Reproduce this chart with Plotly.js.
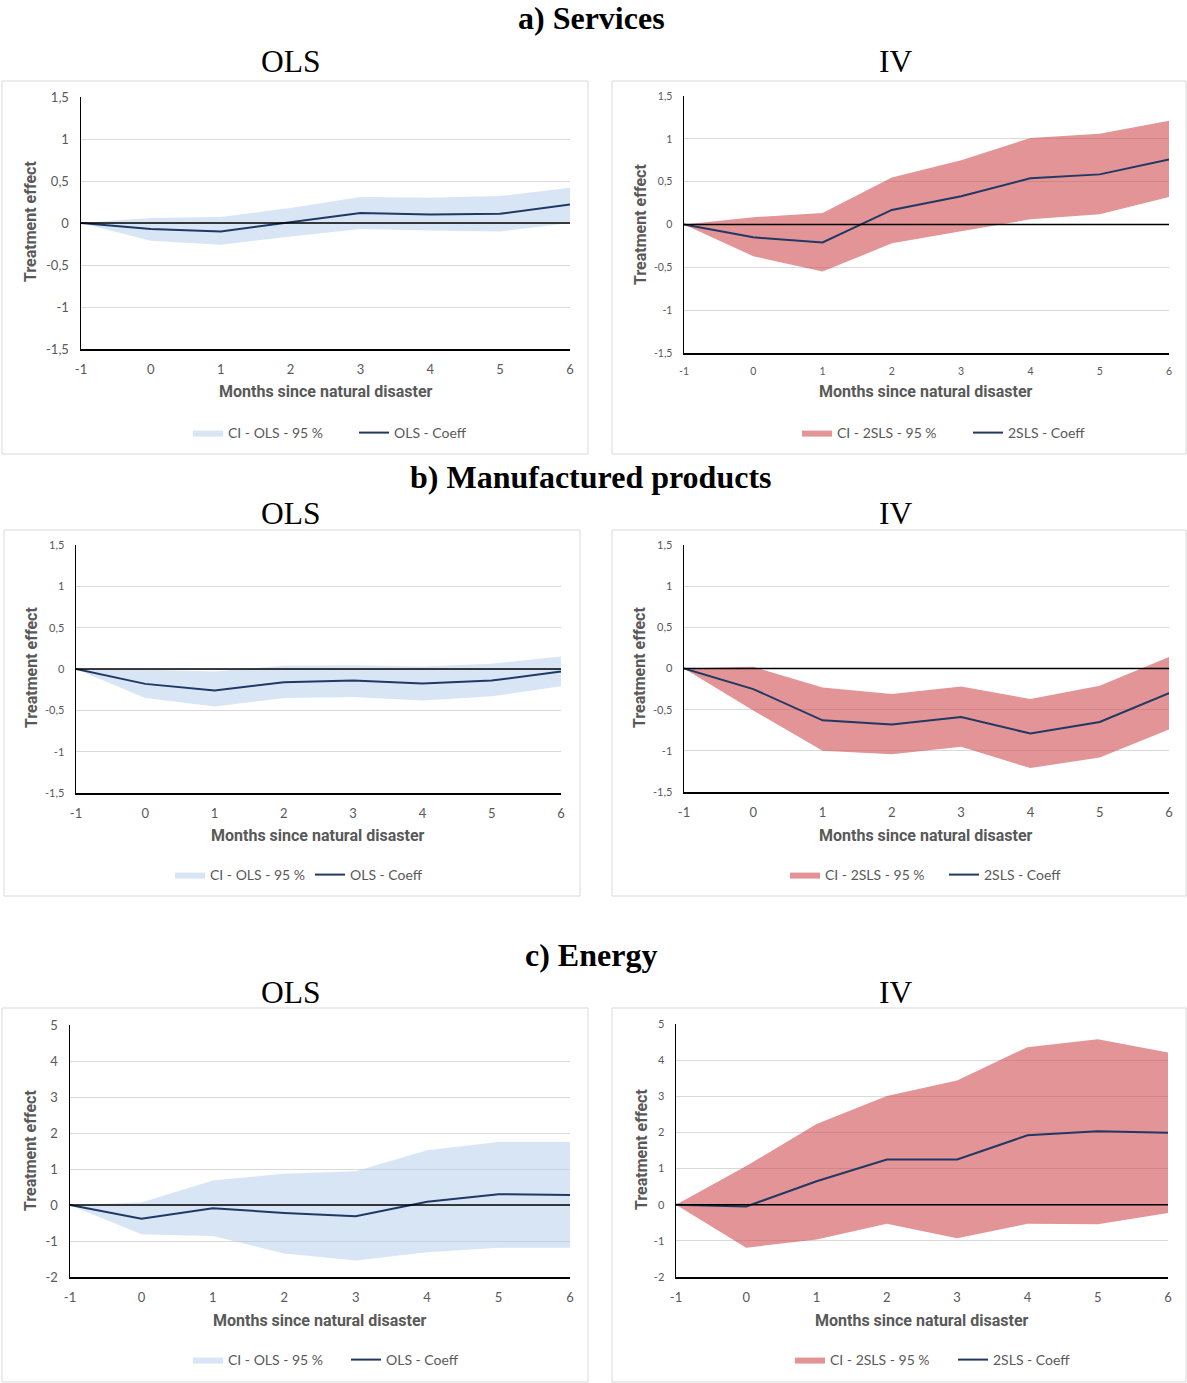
<!DOCTYPE html>
<html>
<head>
<meta charset="utf-8">
<script src="https://cdn.plot.ly/plotly-3.0.1.min.js"></script>
<style>html,body{margin:0;padding:0;background:#fff;}#chart{width:1187px;height:1383px;}</style>
</head>
<body>
<div id="chart"></div>
<script>
// ---------- DATA ----------
const months = [-1, 0, 1, 2, 3, 4, 5, 6];
const monthTickText = ["-1", "0", "1", "2", "3", "4", "5", "6"];
const smallTickVals = [-1.5, -1, -0.5, 0, 0.5, 1, 1.5];
const smallTickText = ["-1,5", "-1", "-0,5", "0", "0,5", "1", "1,5"];
const bigTickVals = [-2, -1, 0, 1, 2, 3, 4, 5];
const bigTickText = ["-2", "-1", "0", "1", "2", "3", "4", "5"];

const servOlsCoef = [0, -0.07, -0.10, 0.01, 0.12, 0.10, 0.11, 0.22];
const servOlsLow  = [0, -0.21, -0.26, -0.16, -0.07, -0.09, -0.10, 0.00];
const servOlsHigh = [0, 0.06, 0.07, 0.18, 0.31, 0.30, 0.32, 0.42];

const servIvCoef = [0, -0.15, -0.21, 0.17, 0.33, 0.54, 0.585, 0.76];
const servIvLow  = [0, -0.37, -0.55, -0.22, -0.08, 0.06, 0.12, 0.32];
const servIvHigh = [0, 0.085, 0.135, 0.55, 0.75, 1.01, 1.06, 1.21];

const manuOlsCoef = [0, -0.18, -0.26, -0.16, -0.14, -0.175, -0.14, -0.03];
const manuOlsLow  = [0, -0.35, -0.455, -0.35, -0.34, -0.38, -0.33, -0.21];
const manuOlsHigh = [0, -0.01, -0.03, 0.04, 0.045, 0.03, 0.065, 0.15];

const manuIvCoef = [0, -0.25, -0.63, -0.68, -0.59, -0.79, -0.65, -0.30];
const manuIvLow  = [0, -0.51, -1.00, -1.04, -0.95, -1.21, -1.08, -0.74];
const manuIvHigh = [0, 0.02, -0.23, -0.31, -0.22, -0.37, -0.21, 0.14];

const enerOlsCoef = [0, -0.38, -0.09, -0.22, -0.31, 0.09, 0.30, 0.28];
const enerOlsLow  = [0, -0.81, -0.86, -1.35, -1.54, -1.31, -1.19, -1.19];
const enerOlsHigh = [0, 0.07, 0.68, 0.87, 0.94, 1.52, 1.75, 1.75];

const enerIvCoef = [0, -0.05, 0.65, 1.25, 1.25, 1.92, 2.03, 1.99];
const enerIvLow  = [0, -1.19, -0.96, -0.53, -0.93, -0.53, -0.54, -0.23];
const enerIvHigh = [0, 1.07, 2.23, 3.01, 3.44, 4.36, 4.58, 4.21];

const sectionTitles = ["a) Services", "b) Manufactured products", "c) Energy"];
const methodTitles = ["OLS", "IV"];
const xAxisTitle = "Months since natural disaster";
const yAxisTitle = "Treatment effect";
const ciNames = ["CI - OLS - 95 %", "CI - 2SLS - 95 %"];
const coefNames = ["OLS - Coeff", "2SLS - Coeff"];

// ---------- LAYOUT HELPERS ----------
const W = 1187, H = 1383;
const px = v => v / W;
const py = v => 1 - v / H;
const GREY = "#595959";
const LINE = "#203864";
const BLUE_FILL = "rgba(178,204,234,0.5)";
const RED_FILL = "rgba(207,77,80,0.6)";
const SANS = "Lato, 'Open Sans', sans-serif";
const SANS_BOLD = "Roboto, 'Open Sans', sans-serif";
const SERIF = "'Liberation Serif', 'Times New Roman', serif";

const panels = [
  {coef: servOlsCoef, low: servOlsLow, high: servOlsHigh, m: 0, big: false,
   plot: [81, 570, 97, 349], box: [2, 81, 588, 454], xt: [326, 392], yt: [30, 222], leg: [193, 433], tfs: 13, xfs: 13, ew: 121},
  {coef: servIvCoef, low: servIvLow, high: servIvHigh, m: 1, big: false,
   plot: [684, 1169, 96, 353], box: [612, 81, 1186, 454], xt: [926, 392], yt: [640, 225], leg: [802, 433], tfs: 10.5, xfs: 10.5, ew: 126},
  {coef: manuOlsCoef, low: manuOlsLow, high: manuOlsHigh, m: 0, big: false,
   plot: [76, 561, 545, 793], box: [4, 530, 580, 896], xt: [318, 835], yt: [32, 668], leg: [175, 875], tfs: 11, xfs: 13, ew: 95},
  {coef: manuIvCoef, low: manuIvLow, high: manuIvHigh, m: 1, big: false,
   plot: [684, 1169, 545, 792], box: [612, 530, 1186, 896], xt: [926, 835], yt: [640, 668], leg: [790, 875], tfs: 11, xfs: 13, ew: 114},
  {coef: enerOlsCoef, low: enerOlsLow, high: enerOlsHigh, m: 0, big: true,
   plot: [70, 570, 1025, 1277], box: [2, 1008, 588, 1382], xt: [320, 1320], yt: [30, 1151], leg: [193, 1360], tfs: 13, xfs: 13, ew: 113},
  {coef: enerIvCoef, low: enerIvLow, high: enerIvHigh, m: 1, big: true,
   plot: [676, 1168, 1024, 1277], box: [612, 1008, 1186, 1382], xt: [922, 1320], yt: [641, 1150], leg: [795, 1360], tfs: 11, xfs: 13, ew: 118}
];

const traces = [];
const layout = {
  width: W, height: H,
  margin: {l: 0, r: 0, t: 0, b: 0},
  paper_bgcolor: "#ffffff", plot_bgcolor: "rgba(0,0,0,0)",
  showlegend: true,
  shapes: [], annotations: []
};

panels.forEach((p, i) => {
  const n = i + 1;
  const xa = n === 1 ? "x" : "x" + n;
  const ya = n === 1 ? "y" : "y" + n;
  const legName = n === 1 ? "legend" : "legend" + n;
  const fill = p.m === 0 ? BLUE_FILL : RED_FILL;

  traces.push({
    x: months, y: p.low, xaxis: xa, yaxis: ya, type: "scatter", mode: "lines",
    line: {width: 0, color: fill}, showlegend: false, hoverinfo: "skip", legend: legName
  });
  traces.push({
    x: months, y: p.high, xaxis: xa, yaxis: ya, type: "scatter", mode: "lines",
    fill: "tonexty", fillcolor: fill, line: {width: 0, color: fill},
    name: ciNames[p.m], legend: legName
  });
  traces.push({
    x: months, y: p.coef, xaxis: xa, yaxis: ya, type: "scatter", mode: "lines",
    line: {width: 2, color: LINE}, name: coefNames[p.m], legend: legName
  });

  const [x0, x1, y0, y1] = p.plot;
  layout["xaxis" + (n === 1 ? "" : n)] = {
    domain: [px(x0), px(x1)], anchor: ya, range: [-1, 6],
    tickvals: months, ticktext: monthTickText, showgrid: false, zeroline: false,
    showline: true, linecolor: "#000000", linewidth: 1.5, ticks: "",
    ticklabelstandoff: 8, tickfont: {family: SANS, size: p.xfs, color: GREY}, fixedrange: true
  };
  layout["yaxis" + (n === 1 ? "" : n)] = {
    domain: [py(y1), py(y0)], anchor: xa,
    range: p.big ? [-2, 5] : [-1.5, 1.5],
    tickvals: p.big ? bigTickVals : smallTickVals,
    ticktext: p.big ? bigTickText : smallTickText,
    showgrid: true, gridcolor: "#d9d9d9", gridwidth: 1, zeroline: false,
    showline: true, linecolor: "#000000", linewidth: 1.5, ticks: "",
    ticklabelstandoff: 8, tickfont: {family: SANS, size: p.tfs, color: GREY}, fixedrange: true
  };

  // zero reference line on top of the bands
  layout.shapes.push({
    type: "line", xref: xa + " domain", yref: ya, x0: 0, x1: 1, y0: 0, y1: 0,
    line: {color: "#000000", width: 1.5}, layer: "above"
  });
  // chart frame
  const b = p.box;
  layout.shapes.push({
    type: "rect", xref: "paper", yref: "paper",
    x0: px(b[0]), x1: px(b[2]), y0: py(b[3]), y1: py(b[1]),
    line: {color: "#d9d9d9", width: 1}, fillcolor: "rgba(0,0,0,0)", layer: "below"
  });

  layout.annotations.push({
    xref: "paper", yref: "paper", x: px(p.xt[0]), y: py(p.xt[1]),
    xanchor: "center", yanchor: "middle", showarrow: false, text: xAxisTitle,
    font: {family: SANS_BOLD, size: 16, color: GREY, weight: 700}
  });
  layout.annotations.push({
    xref: "paper", yref: "paper", x: px(p.yt[0]), y: py(p.yt[1]),
    xanchor: "center", yanchor: "middle", showarrow: false, textangle: -90, text: yAxisTitle,
    font: {family: SANS_BOLD, size: 16, color: GREY, weight: 700}
  });

  layout[legName] = {
    orientation: "h", x: px(p.leg[0] - 5), y: py(p.leg[1]), xanchor: "left", yanchor: "middle",
    bgcolor: "rgba(0,0,0,0)", font: {family: SANS, size: 14, color: GREY},
    traceorder: "normal", itemwidth: 30, entrywidth: p.ew
  };
});

// section and method titles
const sectionY = [18, 477, 955];
const methodY = [62, 513, 992];
sectionTitles.forEach((t, k) => {
  layout.annotations.push({
    xref: "paper", yref: "paper", x: px(591), y: py(sectionY[k]),
    xanchor: "center", yanchor: "middle", showarrow: false, text: t,
    font: {family: SERIF, size: 32, color: "#000000", weight: 700}
  });
  [291, 895].forEach((cx, j) => {
    layout.annotations.push({
      xref: "paper", yref: "paper", x: px(cx), y: py(methodY[k]),
      xanchor: "center", yanchor: "middle", showarrow: false, text: methodTitles[j],
      font: {family: SERIF, size: 31.5, color: "#000000"}
    });
  });
});

Plotly.newPlot("chart", traces, layout, {staticPlot: true, displayModeBar: false});
</script>
</body>
</html>
